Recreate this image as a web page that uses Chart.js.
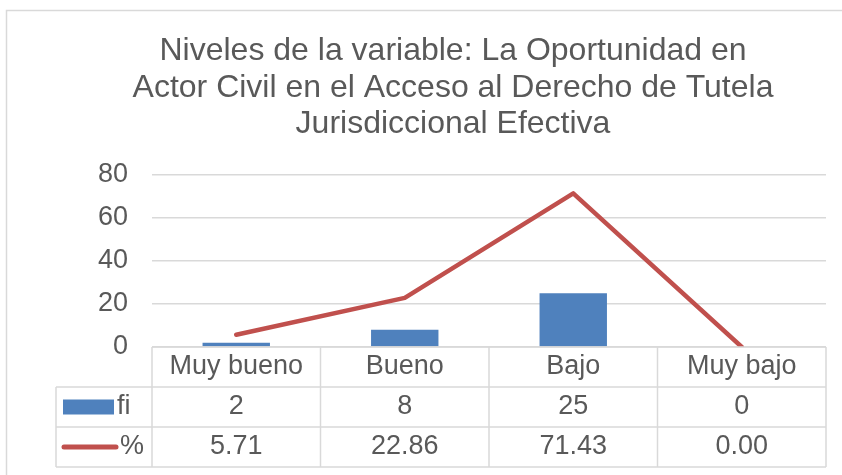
<!DOCTYPE html>
<html><head><meta charset="utf-8">
<script src="https://cdn.jsdelivr.net/npm/chart.js@4"></script>
<style>html,body{margin:0;padding:0;background:#fff}#wrap{width:842px;height:475px;position:relative}</style>
</head><body><div id="wrap"><canvas id="c" width="842" height="475"></canvas></div>
<script>
const titleLines = ["Niveles de la variable: La Oportunidad en", "Actor Civil en el Acceso al Derecho de Tutela", "Jurisdiccional Efectiva"];
const categories = ["Muy bueno", "Bueno", "Bajo", "Muy bajo"];
const seriesNames = ["fi", "%"];
const fiValues = [2, 8, 25, 0];
const pctValues = [5.71, 22.86, 71.43, 0.00];
const yMin = 0, yMax = 80, yStep = 20;

const FONT = "'Liberation Sans', Arial, sans-serif";
const TEXT = '#595959';
const GRID = '#d9d9d9';
const BLUE = '#4F81BD';
const RED = '#C0504D';

const tablePlugin = {
  id: 'dataTable',
  beforeDraw(chart) {
    const ctx = chart.ctx;
    ctx.save();
    ctx.strokeStyle = GRID; ctx.lineWidth = 1.5;
    ctx.beginPath();
    ctx.moveTo(6.5, 475); ctx.lineTo(6.5, 10.5); ctx.lineTo(842, 10.5);
    ctx.stroke();
    ctx.restore();
  },
  afterDraw(chart) {
    const ctx = chart.ctx, area = chart.chartArea, xs = chart.scales.x;
    const rowH = 40, top = area.bottom, legendLeft = 56;
    const n = categories.length, colW = area.width / n;
    ctx.save();
    ctx.strokeStyle = GRID; ctx.lineWidth = 1.5;
    ctx.beginPath();
    ctx.moveTo(area.left, top); ctx.lineTo(area.right, top);
    for (let r = 1; r <= 3; r++) { ctx.moveTo(legendLeft, top + r * rowH); ctx.lineTo(area.right, top + r * rowH); }
    for (let c = 0; c <= n; c++) { const x = area.left + c * colW; ctx.moveTo(x, top); ctx.lineTo(x, top + 3 * rowH); }
    ctx.moveTo(legendLeft, top + rowH); ctx.lineTo(legendLeft, top + 3 * rowH);
    ctx.stroke();
    ctx.fillStyle = TEXT;
    ctx.font = "27px " + FONT;
    ctx.textAlign = 'center'; ctx.textBaseline = 'middle';
    categories.forEach((c, i) => {
      const cx = xs.getPixelForValue(i);
      ctx.fillText(c, cx, top + rowH * 0.5);
      ctx.fillText(String(fiValues[i]), cx, top + rowH * 1.5);
      ctx.fillText(pctValues[i].toFixed(2), cx, top + rowH * 2.5);
    });
    // legend keys
    const y1 = top + rowH * 1.5, y2 = top + rowH * 2.5;
    ctx.fillStyle = BLUE;
    ctx.fillRect(63, y1 - 7.5, 51, 15);
    ctx.strokeStyle = RED; ctx.lineWidth = 5; ctx.lineCap = 'round';
    ctx.beginPath(); ctx.moveTo(64, y2); ctx.lineTo(116, y2); ctx.stroke();
    ctx.fillStyle = TEXT; ctx.textAlign = 'left';
    ctx.fillText(seriesNames[0], 117, y1);
    ctx.fillText(seriesNames[1], 120, y2);
    ctx.restore();
  }
};

new Chart(document.getElementById('c'), {
  data: {
    labels: categories,
    datasets: [
      { type: 'line', label: seriesNames[1], data: pctValues, borderColor: RED, backgroundColor: RED,
        borderWidth: 4.5, pointRadius: 0, tension: 0, borderCapStyle: 'round', borderJoinStyle: 'round', order: 1 },
      { type: 'bar', label: seriesNames[0], data: fiValues, backgroundColor: BLUE,
        barPercentage: 0.4, categoryPercentage: 1, order: 2 }
    ]
  },
  options: {
    responsive: false, animation: false, devicePixelRatio: 1,
    layout: { padding: { left: 80, right: 16, top: 0, bottom: 128 } },
    plugins: {
      legend: { display: false }, tooltip: { enabled: false },
      title: { display: true, text: titleLines, color: TEXT,
        font: { family: FONT, size: 32, weight: 'normal', lineHeight: 1.14 },
        padding: { top: 33, bottom: 32.5 } }
    },
    scales: {
      x: { display: false, offset: true },
      y: { min: yMin, max: yMax,
        afterFit(s) { s.width = 72; },
        ticks: { stepSize: yStep, color: TEXT, font: { family: FONT, size: 27 }, padding: 24 },
        grid: { color: GRID, lineWidth: 1.5, drawTicks: false },
        border: { display: false } }
    }
  },
  plugins: [tablePlugin]
});
</script></body></html>
